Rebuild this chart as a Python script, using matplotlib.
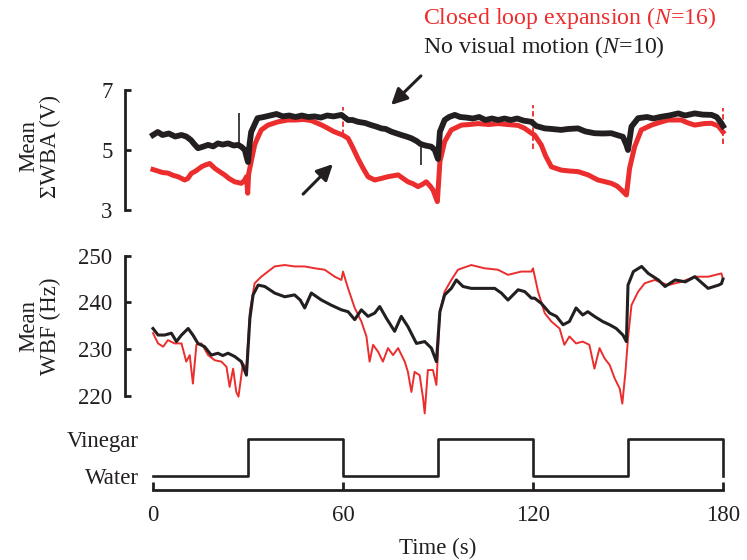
import matplotlib
matplotlib.use("Agg")
import matplotlib.pyplot as plt

plt.rcParams['font.family'] = ['Liberation Serif', 'DejaVu Serif']
plt.rcParams['mathtext.fontset'] = 'custom'
plt.rcParams['mathtext.rm'] = 'Liberation Serif'
plt.rcParams['mathtext.it'] = 'Liberation Serif:italic'

RED = '#ec2d2d'
BLK = '#231f20'

# ---------------- data ----------------
wba_black_t = [0, 1.5, 3, 5, 7, 9, 10.5, 12, 13, 14.2, 15.5, 17.4, 19, 20.5, 22, 23.7, 25.5, 26.9, 28, 29, 29.6, 30, 30.5, 31, 32, 33, 35, 37, 39, 41, 43, 45, 47, 49, 51, 53, 55, 57, 59.5, 61.6, 63, 64.7, 67, 68.9, 70.5, 72.1, 73.5, 75.3, 77, 78.4, 80, 81.6, 83.2, 84.5, 86, 87.9, 89, 89.5, 90, 90.6, 92.1, 93.5, 95.3, 97, 99, 101, 103, 105, 107, 109, 111, 113, 115, 117, 119.5, 121, 123.7, 126, 128.9, 131, 134.2, 136.5, 139.4, 142, 144.7, 146.5, 148.4, 149.5, 150, 151.1, 153.2, 156, 158, 160.6, 163, 165.9, 168, 171.1, 173.5, 176.4, 178, 179.5, 180]
wba_black = [5.5, 5.6, 5.5, 5.55, 5.45, 5.5, 5.45, 5.33, 5.2, 5.06, 5.1, 5.17, 5.12, 5.22, 5.18, 5.22, 5.15, 5.17, 5.1, 5.0, 4.75, 4.6, 5.2, 5.6, 5.83, 6.06, 6.1, 6.15, 6.2, 6.12, 6.15, 6.1, 6.15, 6.1, 6.12, 6.08, 6.15, 6.12, 6.17, 6.0, 6.0, 5.94, 5.9, 5.83, 5.78, 5.72, 5.7, 5.61, 5.55, 5.5, 5.45, 5.39, 5.3, 5.2, 5.15, 5.11, 5.0, 4.85, 4.7, 5.61, 6.0, 6.1, 6.17, 6.1, 6.08, 6.05, 6.1, 6.0, 6.05, 6.0, 6.05, 6.0, 6.05, 5.98, 5.94, 5.8, 5.72, 5.7, 5.67, 5.7, 5.72, 5.62, 5.56, 5.55, 5.56, 5.5, 5.44, 5.17, 5.0, 5.78, 6.06, 6.1, 6.05, 6.11, 6.15, 6.22, 6.15, 6.22, 6.18, 6.17, 6.1, 5.89, 5.8]
# isolated thin spikes in the black ΣWBA trace
wba_black_spike_t = [27.05, 84.6]
wba_black_spike_lo = [5.15, 4.5]
wba_black_spike_hi = [6.22, 5.2]

wba_red_t = [0, 1.5, 3, 4.7, 6.5, 7.9, 10, 11, 12.1, 13.5, 15.3, 16.5, 17.9, 19.5, 21, 22.6, 24, 25.8, 27.9, 29, 29.5, 29.9, 30.2, 31, 32.1, 33, 34.2, 36.3, 39.5, 42.6, 45, 47.5, 50, 52, 53.5, 55.3, 57, 58.4, 59.9, 61.6, 63, 64.7, 66.3, 67.9, 70, 72, 74.2, 77.4, 79, 80.5, 82, 83.7, 85, 86.3, 87.5, 88.4, 89.8, 90.6, 92.1, 94.2, 97.4, 100, 102.6, 106, 109, 112, 115.3, 117.4, 119.5, 120.5, 122.6, 124, 125.8, 128.9, 131.5, 134.2, 137.4, 140.5, 142.5, 144.7, 146.5, 147.9, 149.5, 150.5, 152.1, 154.2, 157.4, 160, 162.6, 166.8, 169, 171.1, 174, 176.4, 178.5, 179.5, 180]
wba_red = [4.35, 4.3, 4.25, 4.23, 4.15, 4.11, 4.0, 4.05, 4.22, 4.3, 4.44, 4.5, 4.55, 4.39, 4.28, 4.17, 4.05, 3.94, 3.89, 4.0, 4.11, 3.56, 4.2, 4.61, 5.17, 5.4, 5.67, 5.83, 5.94, 6.0, 6.0, 6.02, 5.98, 5.89, 5.82, 5.72, 5.62, 5.56, 5.5, 5.39, 5.1, 4.72, 4.4, 4.11, 4.0, 4.05, 4.11, 4.17, 4.05, 3.94, 3.88, 3.78, 3.85, 3.94, 3.8, 3.67, 3.28, 4.61, 5.28, 5.67, 5.83, 5.85, 5.88, 5.85, 5.88, 5.85, 5.82, 5.72, 5.56, 5.5, 5.17, 4.8, 4.44, 4.33, 4.3, 4.28, 4.17, 4.0, 3.95, 3.89, 3.8, 3.67, 3.5, 4.39, 5.11, 5.67, 5.83, 5.92, 6.0, 6.0, 5.9, 5.83, 5.88, 5.89, 5.8, 5.67, 5.6]
# dashed red artefacts at the odour switches
wba_red_spike_t = [60, 120, 180]
wba_red_spike_lo = [5.5, 5.05, 5.2]
wba_red_spike_hi = [6.45, 6.5, 6.4]

wbf_black_t = [0, 1.6, 3.7, 5.8, 7.4, 9, 11.1, 12.6, 14.2, 16.3, 18.4, 20.5, 22, 23.7, 25.8, 27.9, 29.5, 30.6, 31.6, 33.2, 35.3, 38.4, 41.6, 44.7, 46.5, 47.9, 50, 53.2, 56.3, 59.5, 61.6, 63.7, 65.8, 67.9, 70, 71.6, 73.7, 76.3, 78.4, 80.5, 83.2, 85.8, 87.9, 89.5, 90.6, 92.1, 94.2, 95.8, 97.9, 100.5, 103.7, 107.9, 110, 112.1, 115.3, 117.4, 119.5, 120.5, 122.6, 125.3, 127.4, 129.5, 131.5, 133.6, 135.7, 137.3, 139.4, 142, 144.2, 146.3, 148.4, 149.5, 150, 151.7, 154.3, 156.4, 159.6, 161.7, 164.9, 168.1, 171.1, 175.3, 178.6, 179.5, 180]
wbf_black = [234.4, 233.0, 233.0, 233.4, 231.6, 233.0, 234.4, 233.0, 231.2, 230.5, 228.7, 229.1, 228.6, 229.1, 228.4, 227.3, 224.4, 236.6, 241.6, 243.7, 243.4, 242.0, 241.2, 241.6, 240.5, 238.8, 242.0, 240.5, 239.4, 238.4, 238.0, 236.3, 238.4, 237.0, 237.7, 239.1, 236.6, 233.8, 237.0, 234.8, 231.2, 231.6, 230.2, 227.3, 238.0, 241.6, 243.0, 244.8, 243.4, 243.0, 243.0, 243.0, 242.0, 240.5, 242.7, 242.3, 240.9, 240.9, 239.8, 237.7, 237.0, 235.2, 235.9, 238.8, 237.3, 238.0, 237.0, 235.9, 235.2, 234.4, 233.0, 231.6, 243.7, 246.6, 247.7, 246.2, 244.8, 243.4, 244.8, 244.4, 245.5, 243.0, 243.7, 244.0, 245.0]

wbf_red_t = [0, 1.6, 3.2, 4.7, 6.8, 9, 10.5, 11.6, 12.6, 13.7, 15.3, 17.4, 19.5, 21.6, 23.2, 24.2, 25.3, 26.3, 27, 28.4, 29.5, 30.6, 32.1, 34.2, 36.3, 38.4, 41.6, 44.7, 47.9, 51.1, 54.2, 57.4, 59.5, 60, 61.6, 63.7, 65.8, 67.4, 68.4, 69.5, 71.1, 72.6, 74.2, 75.8, 77.4, 79.5, 80.5, 81.6, 82.6, 84.2, 85.3, 85.8, 86.8, 88.4, 89.5, 90.6, 92.1, 94.2, 96.3, 100.5, 104.7, 108.9, 112.1, 116.3, 119.5, 120, 121.6, 123.7, 125.8, 128.4, 129.9, 131.5, 133.6, 135.7, 137.8, 139.4, 141, 142.6, 144.2, 145.8, 147.4, 148.2, 149.2, 150, 151.1, 153.2, 155.3, 158.4, 162.6, 166.8, 171.1, 175.3, 179.5, 180]
wbf_red = [233.4, 231.2, 230.5, 231.9, 231.2, 231.2, 227.3, 228.7, 222.6, 230.9, 231.2, 228.7, 227.6, 227.3, 226.2, 221.9, 225.8, 220.8, 219.8, 226.9, 225.8, 238.0, 244.1, 245.5, 246.6, 247.7, 248.0, 247.7, 247.7, 247.3, 247.0, 245.5, 244.8, 246.6, 243.0, 238.8, 235.9, 232.7, 227.3, 230.9, 229.4, 227.3, 230.2, 228.7, 230.2, 227.3, 225.1, 220.8, 225.1, 224.4, 219.4, 216.2, 225.5, 225.5, 222.3, 238.0, 242.3, 244.8, 247.0, 248.0, 247.3, 247.0, 245.9, 246.6, 246.6, 247.3, 242.3, 237.7, 235.9, 234.4, 230.9, 232.7, 231.2, 231.6, 230.9, 225.8, 230.2, 228.0, 226.6, 223.7, 221.5, 218.3, 225.1, 232.3, 239.4, 242.3, 244.1, 244.8, 243.7, 244.4, 245.5, 245.5, 246.2, 245.0]

stim_t = [0, 30, 60, 90, 120, 150, 180]
stim_level = [0, 1, 0, 1, 0, 1, 0]
stim_labels = ['Water', 'Vinegar']

wba_ticks = [3, 5, 7]
wbf_ticks = [220, 230, 240, 250]
time_ticks = [0, 60, 120, 180]

legend_red = 'Closed loop expansion ($\\mathit{N}$=16)'
legend_black = 'No visual motion ($\\mathit{N}$=10)'

# ---------------- figure ----------------
W, H = 747, 560
fig = plt.figure(figsize=(W / 100, H / 100), dpi=100)
FS = 16.5

def rect(x0, y_top, x1, y_bot):
    return [x0 / W, 1 - y_bot / H, (x1 - x0) / W, (y_bot - y_top) / H]

x0, x1 = 153, 723
spine_off = (153 - 125) * 0.72

def style_left(ax):
    for s in ('top', 'right', 'bottom'):
        ax.spines[s].set_visible(False)
    ax.spines['left'].set_position(('outward', spine_off))
    ax.spines['left'].set_linewidth(2.0)
    ax.spines['left'].set_color(BLK)
    ax.tick_params(axis='y', direction='in', length=4, width=2.0, colors=BLK,
                   labelsize=FS, pad=9)
    ax.set_xticks([])
    ax.set_xlim(0, 180)
    ax.patch.set_visible(False)

# top panel
ax1 = fig.add_axes(rect(x0, 90, x1, 210))
style_left(ax1)
ax1.plot(wba_red_t, wba_red, color=RED, lw=3.6, clip_on=False)
ax1.vlines(wba_red_spike_t, wba_red_spike_lo, wba_red_spike_hi, colors=RED, lw=1.3,
           linestyles=(0, (3, 1.5)), clip_on=False)
ax1.plot(wba_black_t, wba_black, color=BLK, lw=4.2, clip_on=False)
ax1.vlines(wba_black_spike_t, wba_black_spike_lo, wba_black_spike_hi, colors=BLK,
           lw=1.2, clip_on=False)
ax1.set_ylim(3, 7)
ax1.set_yticks(wba_ticks)
ax1.annotate('', xy=(56.8, 4.53), xytext=(47.4, 3.53), annotation_clip=False,
             arrowprops=dict(arrowstyle='-|>', lw=2.2, color=BLK, mutation_scale=24,
                             shrinkA=0, shrinkB=0))
ax1.annotate('', xy=(75.2, 6.5), xytext=(84.6, 7.47), annotation_clip=False,
             arrowprops=dict(arrowstyle='-|>', lw=2.2, color=BLK, mutation_scale=24,
                             shrinkA=0, shrinkB=0))

# middle panel
ax2 = fig.add_axes(rect(x0, 255.7, x1, 395.7))
style_left(ax2)
ax2.plot(wbf_red_t, wbf_red, color=RED, lw=1.4, clip_on=False)
ax2.plot(wbf_black_t, wbf_black, color=BLK, lw=2.2, clip_on=False)
ax2.set_ylim(220, 250)
ax2.set_yticks(wbf_ticks)

# stimulus panel
ax3 = fig.add_axes(rect(x0, 439, x1, 490))
for s in ('top', 'right', 'left'):
    ax3.spines[s].set_visible(False)
ax3.spines['bottom'].set_linewidth(2.0)
ax3.spines['bottom'].set_color(BLK)
ax3.step(stim_t, stim_level, where='post', color=BLK, lw=1.9, clip_on=False)
ax3.set_xlim(0, 180)
ax3.set_ylim(-14 / 37, 1)
ax3.set_yticks([0, 1])
ax3.set_yticklabels(stim_labels)
ax3.tick_params(axis='y', length=0, labelsize=FS, pad=10, colors=BLK)
ax3.set_xticks(time_ticks)
ax3.tick_params(axis='x', direction='in', length=6, width=2.0, labelsize=FS, pad=11,
                colors=BLK)
ax3.patch.set_visible(False)

# labels
fig.text(40 / W, 1 - 146 / H, 'Mean\n\u03a3WBA (V)', rotation=90, ha='center',
         va='center', fontsize=FS, color=BLK, linespacing=1.05, multialignment='center')
fig.text(40 / W, 1 - 326 / H, 'Mean\nWBF (Hz)', rotation=90, ha='center',
         va='center', fontsize=FS, color=BLK, linespacing=1.05, multialignment='center')
fig.text(438 / W, 1 - 548 / H, 'Time (s)', ha='center', va='center', fontsize=FS,
         color=BLK)
fig.text(423 / W, 1 - 18 / H, legend_red, ha='left', va='center', fontsize=FS + 0.7,
         color=RED)
fig.text(423 / W, 1 - 47 / H, legend_black, ha='left', va='center', fontsize=FS + 0.7,
         color=BLK)

fig.savefig('out.png', dpi=100)
